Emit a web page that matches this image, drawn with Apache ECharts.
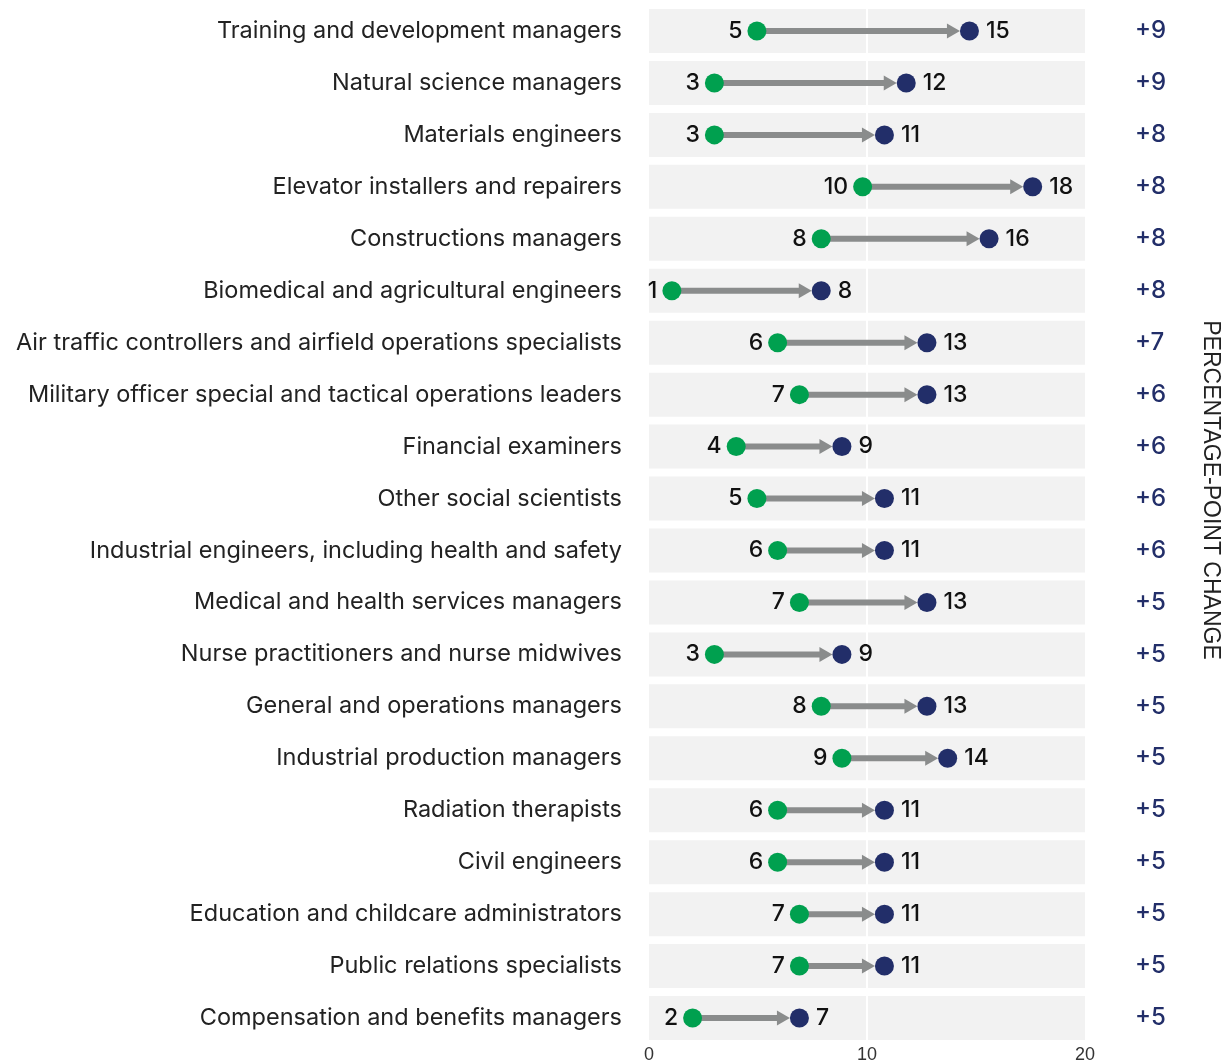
<!DOCTYPE html>
<html>
<head>
<meta charset="utf-8">
<script src="https://cdn.jsdelivr.net/npm/echarts@6/dist/echarts.min.js"></script>
<style>
  html, body { margin: 0; padding: 0; background: #fff; }
  #chart { width: 1228px; height: 1063px; }
</style>
</head>
<body>
<div id="chart"></div>
<script>
// occupations, top to bottom
var categories = [
  'Training and development managers',
  'Natural science managers',
  'Materials engineers',
  'Elevator installers and repairers',
  'Constructions managers',
  'Biomedical and agricultural engineers',
  'Air traffic controllers and airfield operations specialists',
  'Military officer special and tactical operations leaders',
  'Financial examiners',
  'Other social scientists',
  'Industrial engineers, including health and safety',
  'Medical and health services managers',
  'Nurse practitioners and nurse midwives',
  'General and operations managers',
  'Industrial production managers',
  'Radiation therapists',
  'Civil engineers',
  'Education and childcare administrators',
  'Public relations specialists',
  'Compensation and benefits managers'
]
// start (green) and end (navy) shares
var startVals = [4.95, 3.0, 3.0, 9.8, 7.9, 1.05, 5.9, 6.9, 4.0, 4.95, 5.9, 6.9, 3.0, 7.9, 8.85, 5.9, 5.9, 6.9, 6.9, 2.0]
var endVals = [14.7, 11.8, 10.8, 17.6, 15.6, 7.9, 12.75, 12.75, 8.85, 10.8, 10.8, 12.75, 8.85, 12.75, 13.7, 10.8, 10.8, 10.8, 10.8, 6.9]
var changeLabels = ['+9', '+9', '+8', '+8', '+8', '+8', '+7', '+6', '+6', '+6', '+6', '+5', '+5', '+5', '+5', '+5', '+5', '+5', '+5', '+5']
var xTicks = [0, 10, 20]

var GREEN = '#00a04f'
var NAVY = '#222e69'
var ARROW = '#8a8c8c'
var FONT = 'Inter'

var chart = echarts.init(document.getElementById('chart'))

function arrowItem(params, api) {
  var s = api.coord([api.value(0), api.value(2)])
  var e = api.coord([api.value(1), api.value(2)])
  var tipX = e[0] - 9.5
  var headLen = 13
  var headHalf = 7.5
  return {
    type: 'group',
    children: [
      {
        type: 'line',
        shape: { x1: s[0], y1: s[1], x2: tipX - headLen + 1, y2: s[1] },
        style: { stroke: ARROW, lineWidth: 6 }
      },
      {
        type: 'polygon',
        shape: { points: [[tipX, e[1]], [tipX - headLen, e[1] - headHalf], [tipX - headLen, e[1] + headHalf]] },
        style: { fill: ARROW }
      }
    ]
  }
}

chart.setOption({
  animation: false,
  grid: { left: 649, right: 143, top: 5, bottom: 19, containLabel: false, outerBoundsMode: 'none' },
  xAxis: {
    type: 'value',
    min: xTicks[0],
    max: xTicks[xTicks.length - 1],
    interval: 10,
    axisLine: { show: false },
    axisTick: { show: false },
    splitLine: { show: false },
    axisLabel: { color: '#333', fontFamily: 'Liberation Sans', fontSize: 18, margin: 2 }
  },
  yAxis: [
    {
      type: 'category',
      data: categories,
      inverse: true,
      axisLine: { show: false },
      axisTick: { show: false },
      axisLabel: { color: '#222', fontFamily: FONT, fontSize: 23.5, margin: 27, padding: [0, 0, 4, 0] }
    },
    {
      type: 'category',
      data: changeLabels,
      inverse: true,
      position: 'right',
      axisLine: { show: false },
      axisTick: { show: false },
      axisLabel: { color: NAVY, fontFamily: FONT, fontSize: 24, fontWeight: 500, margin: 50 }
    }
  ],
  graphic: [
    {
      type: 'text',
      x: 1210,
      y: 490,
      rotation: -Math.PI / 2,
      style: {
        text: 'PERCENTAGE-POINT CHANGE',
        font: '23px "Liberation Sans"',
        fill: '#222',
        textAlign: 'center',
        textVerticalAlign: 'middle'
      }
    }
  ],
  series: [
    {
      type: 'bar',
      data: categories.map(function () { return xTicks[xTicks.length - 1] }),
      barWidth: 44,
      silent: true,
      z: 1,
      itemStyle: { color: '#f2f2f2' },
      markLine: {
        silent: true,
        z: 2,
        symbol: 'none',
        label: { show: false },
        lineStyle: { color: '#fff', width: 2, type: 'solid', opacity: 1 },
        data: [{ xAxis: xTicks[1] }]
      }
    },
    {
      type: 'custom',
      renderItem: arrowItem,
      z: 3,
      silent: true,
      encode: { x: [0, 1], y: 2 },
      data: startVals.map(function (v, i) { return [v, endVals[i], i] })
    },
    {
      type: 'scatter',
      z: 4,
      symbolSize: 19,
      itemStyle: { color: GREEN, opacity: 1 },
      label: {
        show: true,
        position: 'left',
        distance: 5,
        color: '#111',
        fontFamily: FONT,
        fontSize: 23,
        fontWeight: 500,
        formatter: function (p) { return Math.round(p.value[0]) }
      },
      data: startVals.map(function (v, i) { return [v, i] })
    },
    {
      type: 'scatter',
      z: 4,
      symbolSize: 19,
      itemStyle: { color: NAVY, opacity: 1 },
      label: {
        show: true,
        position: 'right',
        distance: 7,
        color: '#111',
        fontFamily: FONT,
        fontSize: 23,
        fontWeight: 500,
        formatter: function (p) { return Math.round(p.value[0]) }
      },
      data: endVals.map(function (v, i) { return [v, i] })
    }
  ]
})
</script>
</body>
</html>
